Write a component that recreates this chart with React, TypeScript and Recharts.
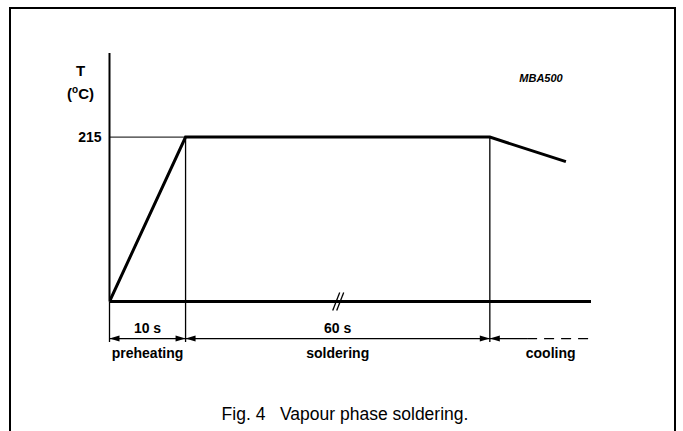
import React from 'react';
import { LineChart, Line, XAxis, YAxis, ReferenceLine, ReferenceDot } from 'recharts';

// Schematic time axis (seconds, with an axis break in the soldering phase)
const times = [0, 10, 50, 60];
const temps = [0, 215, 215, 183];
const yTicks = [215];
const phaseBounds = [0, 10, 50];
const phaseNames = ['preheating', 'soldering', 'cooling'];
const phaseCenters = [5, 30, 58];
const durationLabels = ['10 s', '60 s'];
const breakAt = 30;
const xMax = 63.3;
const yMax = 325;

const data = times.map((t, i) => ({ t, T: temps[i] }));

const FONT = '"Liberation Sans", Arial, Helvetica, sans-serif';

// annotation rows (temperature units below the axis)
const DIM_Y = -48.5;
const DUR_Y = -35;
const PHASE_Y = -67;
const VLINE_BOTTOM = -53;
const COOL_SOLID_END = 54.9;
const COOL_DASH_END = 63;

const arrowLine = (startArrow: boolean, endArrow: boolean, dash?: string) => (p: any) => {
  const { x1, y1, x2, y2 } = p;
  const L = 10;
  const W = 3;
  const dx = x2 - x1;
  const dy = y2 - y1;
  const len = Math.hypot(dx, dy) || 1;
  const ux = dx / len;
  const uy = dy / len;
  const head = (tx: number, ty: number, ax: number, ay: number) =>
    `${tx},${ty} ${tx - ax * L - ay * W},${ty - ay * L + ax * W} ${tx - ax * L + ay * W},${ty - ay * L - ax * W}`;
  return (
    <g>
      <line x1={x1} y1={y1} x2={x2} y2={y2} stroke="#000" strokeWidth={1.3} strokeDasharray={dash} />
      {startArrow && <polygon points={head(x1, y1, -ux, -uy)} fill="#000" />}
      {endArrow && <polygon points={head(x2, y2, ux, uy)} fill="#000" />}
    </g>
  );
};

const textShape = (text: string, size = 14) => (p: any) => (
  <text
    x={p.cx}
    y={p.cy}
    textAnchor="middle"
    dominantBaseline="central"
    fontFamily={FONT}
    fontWeight="bold"
    fontSize={size}
    fill="#000"
  >
    {text}
  </text>
);

const breakShape = (p: any) => {
  const { cx, cy } = p;
  return (
    <g stroke="#000" strokeWidth={1.3}>
      <line x1={cx - 5} y1={cy + 9} x2={cx + 2} y2={cy - 9} />
      <line x1={cx - 1} y1={cy + 9} x2={cx + 6} y2={cy - 9} />
    </g>
  );
};

export default function App() {
  return (
    <div
      style={{
        position: 'absolute',
        left: 0,
        top: 0,
        width: 683,
        height: 431,
        background: '#fff',
        overflow: 'hidden',
      }}
    >
      <div
        style={{
          position: 'absolute',
          left: 9,
          top: 7,
          width: 667,
          height: 430,
          borderTop: '2px solid #000',
          borderLeft: '2px solid #000',
          borderRight: '2px solid #000',
          boxSizing: 'border-box',
        }}
      />
      <div style={{ position: 'absolute', left: 0, top: 0 }}>
        <LineChart
          width={683}
          height={431}
          data={data}
          margin={{ top: 53, right: 92, bottom: 128.5, left: 49.5 }}
        >
          <XAxis
            dataKey="t"
            type="number"
            domain={[0, xMax]}
            allowDataOverflow
            tick={false}
            tickLine={false}
            height={1}
            axisLine={{ stroke: '#000', strokeWidth: 3 }}
          />
          <YAxis
            type="number"
            domain={[0, yMax]}
            ticks={yTicks}
            width={60}
            tickLine={false}
            axisLine={{ stroke: '#000', strokeWidth: 2 }}
            tick={{ fill: '#000', fontSize: 14, fontWeight: 'bold', fontFamily: FONT }}
          />
          <ReferenceLine
            segment={[{ x: 0, y: temps[1] }, { x: times[1], y: temps[1] }]}
            stroke="#000"
            strokeWidth={1}
            ifOverflow="visible"
          />
          {phaseBounds.map((b, i) => (
            <ReferenceLine
              key={'v' + i}
              segment={[{ x: b, y: i === 0 ? 0 : temps[i] }, { x: b, y: VLINE_BOTTOM }]}
              stroke="#000"
              strokeWidth={1.3}
              ifOverflow="visible"
            />
          ))}
          {durationLabels.map((d, i) => (
            <ReferenceLine
              key={'d' + i}
              segment={[{ x: phaseBounds[i], y: DIM_Y }, { x: phaseBounds[i + 1], y: DIM_Y }]}
              ifOverflow="visible"
              shape={arrowLine(true, true)}
            />
          ))}
          <ReferenceLine
            segment={[{ x: phaseBounds[2], y: DIM_Y }, { x: COOL_SOLID_END, y: DIM_Y }]}
            ifOverflow="visible"
            shape={arrowLine(true, false)}
          />
          <ReferenceLine
            segment={[{ x: COOL_SOLID_END, y: DIM_Y }, { x: COOL_DASH_END, y: DIM_Y }]}
            ifOverflow="visible"
            shape={arrowLine(false, false, '10 7')}
          />
          {durationLabels.map((d, i) => (
            <ReferenceDot
              key={'dl' + i}
              x={phaseCenters[i]}
              y={DUR_Y}
              r={0}
              ifOverflow="visible"
              shape={textShape(d)}
            />
          ))}
          {phaseNames.map((n, i) => (
            <ReferenceDot
              key={'pn' + i}
              x={phaseCenters[i]}
              y={PHASE_Y}
              r={0}
              ifOverflow="visible"
              shape={textShape(n)}
            />
          ))}
          <ReferenceDot x={breakAt} y={0} r={0} ifOverflow="visible" shape={breakShape} />
          <Line
            dataKey="T"
            type="linear"
            stroke="#000"
            strokeWidth={3}
            dot={false}
            activeDot={false}
            isAnimationActive={false}
            strokeLinejoin="miter"
          />
        </LineChart>
      </div>
      <svg width={683} height={431} style={{ position: 'absolute', left: 0, top: 0, pointerEvents: 'none' }}>
        <text x={80.5} y={70} textAnchor="middle" dominantBaseline="central" fontFamily={FONT} fontWeight="bold" fontSize={15}>
          T
        </text>
        <text x={80.5} y={93} textAnchor="middle" dominantBaseline="central" fontFamily={FONT} fontWeight="bold" fontSize={15}>
          (<tspan fontSize={10} dy={-4}>o</tspan>
          <tspan dy={4}>C)</tspan>
        </text>
        <text x={541} y={78} textAnchor="middle" dominantBaseline="central" fontFamily={FONT} fontWeight="bold" fontStyle="italic" fontSize={11}>
          MBA500
        </text>
        <text x={345} y={414} textAnchor="middle" dominantBaseline="central" fontFamily={FONT} fontSize={17.5}>
          Fig. 4{'\u00a0\u00a0\u00a0'}Vapour phase soldering.
        </text>
      </svg>
    </div>
  );
}
